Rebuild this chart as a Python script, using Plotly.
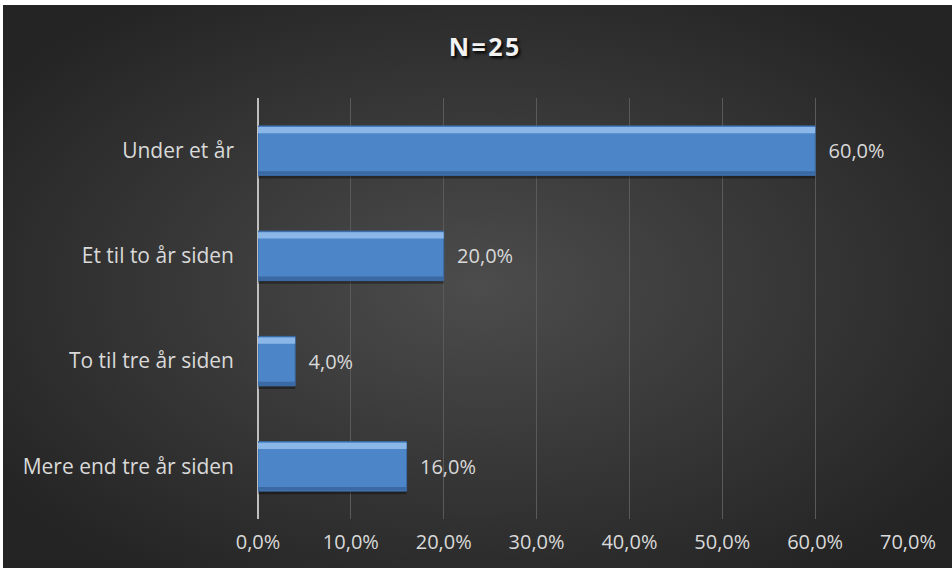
import base64
import plotly.graph_objects as go

# Data (bottom to top, as plotly draws horizontal bars)
categories = ["Mere end tre år siden", "To til tre år siden", "Et til to år siden", "Under et år"]
values = [0.16, 0.04, 0.20, 0.60]
tick_vals = [0, 0.1, 0.2, 0.3, 0.4, 0.5, 0.6, 0.7]
title_text = "N=25"

W, H = 952, 573
L, R, T, B = 258, 44, 98, 54
PW, PH = W - L - R, H - T - B
FONT = "Open Sans, Lato, sans-serif"

# Radial gradient backdrop as inline SVG
svg = f"""<svg xmlns='http://www.w3.org/2000/svg' width='949' height='563' viewBox='0 0 949 563' preserveAspectRatio='none'>
<defs><radialGradient id='g' cx='0.5' cy='0.5' r='0.62'>
<stop offset='0' stop-color='#4c4c4c'/><stop offset='1' stop-color='#242424'/>
</radialGradient></defs><rect width='949' height='563' fill='url(#g)'/></svg>"""
bg_src = "data:image/svg+xml;base64," + base64.b64encode(svg.encode()).decode()

fig = go.Figure()

bar_w = 0.47
# shadow
fig.add_trace(go.Bar(
    y=categories, x=values, orientation="h",
    width=bar_w, offset=-bar_w / 2 - 0.03,
    marker=dict(color="rgba(0,0,0,0.35)", line=dict(width=0)),
    hoverinfo="skip", showlegend=False,
))
# main bar
fig.add_trace(go.Bar(
    y=categories, x=values, orientation="h",
    width=bar_w, offset=-bar_w / 2,
    marker=dict(color="#4c86c8", line=dict(color="#3b6ca8", width=1)),
    texttemplate="  %{x:.1%}", textposition="outside",
    textfont=dict(color="#d9d9d9", size=20, family=FONT),
    cliponaxis=False, showlegend=False,
))
# top highlight bevel
fig.add_trace(go.Bar(
    y=categories, x=values, orientation="h",
    width=0.06, offset=bar_w / 2 - 0.07,
    marker=dict(color="#8ab6e8", line=dict(width=0)),
    hoverinfo="skip", showlegend=False,
))
# bottom dark bevel
fig.add_trace(go.Bar(
    y=categories, x=values, orientation="h",
    width=0.035, offset=-bar_w / 2 + 0.005,
    marker=dict(color="#3a69a3", line=dict(width=0)),
    hoverinfo="skip", showlegend=False,
))

spaced_title = "\u200a".join(title_text)

fig.update_layout(
    width=W, height=H,
    margin=dict(l=L, r=R, t=T, b=B),
    paper_bgcolor="white",
    plot_bgcolor="rgba(0,0,0,0)",
    barmode="overlay",
    separators=",.",
    title=dict(
        text=f"<b>{spaced_title}</b>",
        x=484 / W, xref="container", xanchor="center",
        y=1 - 47 / H, yref="container", yanchor="middle",
        font=dict(color="#f2f2f2", size=25, family=FONT, shadow="2px 2px 3px #000000"),
    ),
    images=[dict(
        source=bg_src, xref="paper", yref="paper",
        x=(3 - L) / PW, y=(H - B - 5) / PH,
        sizex=949 / PW, sizey=563 / PH,
        xanchor="left", yanchor="top", sizing="stretch", layer="below",
    )],
    font=dict(family=FONT, color="#d9d9d9", size=20),
)

fig.update_xaxes(
    range=[0, 0.7], tickvals=tick_vals, tickformat=".1%",
    showgrid=True, gridcolor="#5a5a5a", gridwidth=1,
    zeroline=True, zerolinecolor="#bfbfbf", zerolinewidth=2,
    showline=False, ticks="", ticklabelstandoff=9,
    tickfont=dict(color="#d9d9d9", size=20, family=FONT),
)
fig.update_yaxes(
    categoryorder="array", categoryarray=categories,
    showgrid=False, zeroline=False, showline=False,
    ticks="", ticklabelstandoff=23,
    tickfont=dict(color="#d9d9d9", size=21, family=FONT),
)

fig.write_html(
    "out.html",
    config={"displayModeBar": False},
    post_script="document.body.style.margin='0';",
)
